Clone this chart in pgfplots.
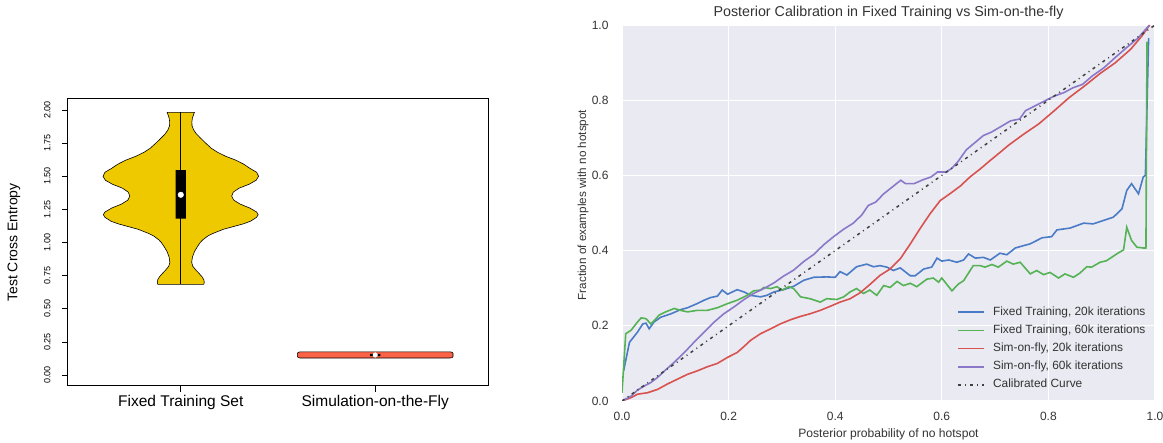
\documentclass[border=0pt]{standalone}
\usepackage{fontspec}
\setmainfont{Liberation Sans}
\usepackage{pgfplots}
\pgfplotsset{compat=1.18}

\definecolor{vyellow}{HTML}{EEC900}
\definecolor{vred}{HTML}{FA6347}
\definecolor{bgcol}{HTML}{EAEAF2}
\definecolor{cblue}{HTML}{4A7BC6}
\definecolor{cgreen}{HTML}{55B255}
\definecolor{cred}{HTML}{D8524F}
\definecolor{cpurple}{HTML}{8A78C8}
\definecolor{txt}{HTML}{333333}

\begin{document}
\begin{tikzpicture}[x=1pt,y=1pt]
\path[use as bounding box] (0,0) rectangle (1163,443);

% left: violin plot
\begin{axis}[
  at={(68pt,57pt)}, anchor=south west, scale only axis,
  width=420pt, height=287pt,
  xmin=0.42, xmax=2.58, ymin=-0.083, ymax=2.083,
  axis line style={line width=1pt},
  tick align=outside, xtick pos=lower, ytick pos=left,
  major tick length=6pt,
  tick style={black, line width=0.6pt},
  xtick={1,2}, xticklabels={Fixed Training Set, Simulation-on-the-Fly},
  ytick={0,0.25,0.5,0.75,1,1.25,1.5,1.75,2},
  yticklabels={0.00,0.25,0.50,0.75,1.00,1.25,1.50,1.75,2.00},
  yticklabel style={rotate=90, anchor=south, yshift=8pt, font=\fontsize{9}{10}\selectfont},
  xticklabel style={font=\fontsize{15.5}{17}\selectfont},
  ylabel={Test Cross Entropy},
  ylabel style={at={(axis description cs:-0.1286,0.5)}, anchor=center, font=\fontsize{14}{16}\selectfont},
]
\addplot[draw=black, line width=0.6pt, fill=vyellow] coordinates {
(1.118,0.684)(1.121,0.70)(1.118,0.72)(1.110,0.74)(1.092,0.77)(1.079,0.79)(1.062,0.82)(1.056,0.85)(1.060,0.89)(1.070,0.93)(1.086,0.97)(1.100,1.00)(1.113,1.02)(1.140,1.05)(1.168,1.07)(1.220,1.10)(1.270,1.12)(1.320,1.14)(1.358,1.16)(1.390,1.19)(1.398,1.21)(1.390,1.23)(1.355,1.26)(1.305,1.29)(1.272,1.32)(1.262,1.35)(1.270,1.38)(1.300,1.41)(1.352,1.44)(1.388,1.47)(1.400,1.50)(1.390,1.53)(1.355,1.56)(1.325,1.59)(1.285,1.62)(1.232,1.65)(1.190,1.68)(1.158,1.71)(1.128,1.75)(1.100,1.79)(1.080,1.82)(1.066,1.85)(1.058,1.88)(1.057,1.91)(1.060,1.94)(1.067,1.97)(1.070,1.982)
(0.930,1.982)(0.933,1.97)(0.940,1.94)(0.943,1.91)(0.942,1.88)(0.934,1.85)(0.920,1.82)(0.900,1.79)(0.872,1.75)(0.842,1.71)(0.810,1.68)(0.768,1.65)(0.715,1.62)(0.675,1.59)(0.645,1.56)(0.610,1.53)(0.600,1.50)(0.612,1.47)(0.648,1.44)(0.700,1.41)(0.730,1.38)(0.738,1.35)(0.728,1.32)(0.695,1.29)(0.645,1.26)(0.610,1.23)(0.602,1.21)(0.610,1.19)(0.642,1.16)(0.680,1.14)(0.730,1.12)(0.780,1.10)(0.832,1.07)(0.860,1.05)(0.887,1.02)(0.900,1.00)(0.914,0.97)(0.930,0.93)(0.940,0.89)(0.944,0.85)(0.938,0.82)(0.921,0.79)(0.908,0.77)(0.890,0.74)(0.882,0.72)(0.879,0.70)(0.882,0.684)(1.118,0.684)
};
\addplot[black, line width=0.8pt] coordinates {(1,0.684)(1,1.982)};
\addplot[draw=none, fill=black] coordinates {(0.974,1.18)(1.026,1.18)(1.026,1.547)(0.974,1.547)(0.974,1.18)};
\addplot[only marks, mark=*, mark size=2.8pt, mark options={fill=white, draw=white}] coordinates {(1,1.36)};

\addplot[draw=black, line width=0.6pt, fill=vred] coordinates {
(2.385,0.128)(2.396,0.132)(2.400,0.140)(2.400,0.163)(2.396,0.171)(2.385,0.175)
(1.615,0.175)(1.604,0.171)(1.600,0.163)(1.600,0.140)(1.604,0.132)(1.615,0.128)(2.385,0.128)
};
\addplot[draw=none, fill=black] coordinates {(1.974,0.143)(2.026,0.143)(2.026,0.159)(1.974,0.159)(1.974,0.143)};
\addplot[only marks, mark=*, mark size=2.3pt, mark options={fill=white, draw=white}] coordinates {(2,0.151)};
\end{axis}

% right: calibration curves
\begin{axis}[
  at={(622pt,42pt)}, anchor=south west, scale only axis,
  width=533pt, height=376pt,
  xmin=0, xmax=1, ymin=0, ymax=1,
  axis background/.style={fill=bgcol},
  axis line style={draw=none},
  major tick length=0pt,
  grid=major, grid style={white, line width=1.3pt},
  xtick={0,0.2,0.4,0.6,0.8,1}, xticklabels={0.0,0.2,0.4,0.6,0.8,1.0},
  ytick={0,0.2,0.4,0.6,0.8,1}, yticklabels={0.0,0.2,0.4,0.6,0.8,1.0},
  ticklabel style={font=\fontsize{12}{14}\selectfont, text=txt},
  xticklabel style={anchor=center, yshift=-15pt},
  yticklabel style={anchor=east, xshift=-10pt},
  title={Posterior Calibration in Fixed Training vs Sim-on-the-fly},
  every axis title/.style={at={(axis description cs:0.5,1)}, anchor=center, yshift=12pt, font=\fontsize{14.3}{16}\selectfont, text=txt},
  xlabel={Posterior probability of no hotspot},
  xlabel style={at={(axis description cs:0.5,0)}, anchor=center, yshift=-33pt, font=\fontsize{12.1}{14}\selectfont, text=txt},
  ylabel={Fraction of examples with no hotspot},
  ylabel style={at={(axis description cs:-0.0732,0.521)}, anchor=center, font=\fontsize{11.7}{14}\selectfont, text=txt},
  legend style={draw=none, fill=none, at={(axis description cs:0.629,0.254)}, anchor=north west,
    inner sep=0pt, row sep=5.2pt, font=\fontsize{11.9}{14}\selectfont, text=txt,
    nodes={inner sep=1pt, text height=8.5pt, text depth=2.5pt}},
  legend cell align=left,
  legend image code/.code={\draw[#1] (0pt,0pt) -- (26pt,0pt); \path (33pt,0pt);},
]
\addplot[cblue, line width=1.6pt] coordinates {
(0.003,0.08)(0.014,0.156)(0.029,0.183)(0.039,0.205)(0.045,0.207)(0.051,0.192)(0.060,0.210)(0.073,0.223)(0.092,0.232)(0.110,0.243)(0.123,0.248)(0.141,0.259)(0.154,0.268)(0.166,0.275)(0.179,0.279)(0.188,0.295)(0.198,0.284)(0.216,0.296)(0.229,0.290)(0.241,0.281)(0.260,0.277)(0.272,0.281)(0.285,0.290)(0.303,0.296)(0.322,0.305)(0.341,0.321)(0.360,0.329)(0.384,0.330)(0.400,0.329)(0.409,0.344)(0.422,0.335)(0.440,0.357)(0.459,0.364)(0.472,0.357)(0.484,0.360)(0.497,0.356)(0.509,0.347)(0.522,0.354)(0.541,0.333)(0.550,0.333)(0.566,0.351)(0.581,0.356)(0.591,0.380)(0.600,0.372)(0.613,0.375)(0.628,0.369)(0.641,0.375)(0.650,0.391)(0.663,0.380)(0.678,0.382)(0.691,0.375)(0.709,0.393)(0.722,0.389)(0.738,0.407)(0.753,0.413)(0.766,0.418)(0.788,0.434)(0.806,0.437)(0.816,0.455)(0.841,0.460)(0.866,0.473)(0.884,0.471)(0.903,0.480)(0.922,0.489)(0.938,0.511)(0.947,0.560)(0.956,0.578)(0.969,0.551)(0.978,0.596)(0.982,0.600)(0.988,0.965)
};
\addlegendentry{Fixed Training, 20k iterations}
\addplot[cgreen, line width=1.6pt] coordinates {
(0,0.022)(0.007,0.179)(0.017,0.188)(0.029,0.210)(0.036,0.221)(0.045,0.219)(0.054,0.205)(0.060,0.213)(0.070,0.229)(0.082,0.237)(0.098,0.246)(0.110,0.241)(0.123,0.237)(0.141,0.241)(0.160,0.241)(0.179,0.248)(0.198,0.259)(0.216,0.268)(0.235,0.281)(0.247,0.293)(0.260,0.295)(0.266,0.302)(0.279,0.299)(0.291,0.304)(0.300,0.295)(0.313,0.304)(0.322,0.299)(0.335,0.277)(0.353,0.272)(0.372,0.263)(0.384,0.272)(0.403,0.270)(0.416,0.277)(0.428,0.290)(0.440,0.299)(0.453,0.286)(0.465,0.295)(0.478,0.281)(0.491,0.307)(0.503,0.302)(0.516,0.318)(0.528,0.307)(0.541,0.313)(0.553,0.304)(0.572,0.324)(0.584,0.327)(0.594,0.316)(0.600,0.327)(0.619,0.293)(0.631,0.311)(0.641,0.320)(0.659,0.360)(0.672,0.360)(0.681,0.356)(0.694,0.363)(0.706,0.356)(0.722,0.372)(0.734,0.364)(0.747,0.369)(0.766,0.338)(0.778,0.347)(0.791,0.336)(0.803,0.342)(0.819,0.327)(0.831,0.338)(0.847,0.329)(0.859,0.340)(0.872,0.357)(0.881,0.356)(0.897,0.369)(0.909,0.373)(0.928,0.391)(0.941,0.402)(0.947,0.462)(0.956,0.427)(0.966,0.409)(0.978,0.407)(0.983,0.407)(0.985,0.955)
};
\addlegendentry{Fixed Training, 60k iterations}
\addplot[cred, line width=1.6pt] coordinates {
(0,0)(0.017,0.009)(0.029,0.018)(0.048,0.022)(0.067,0.031)(0.085,0.045)(0.104,0.058)(0.123,0.071)(0.141,0.080)(0.160,0.091)(0.179,0.100)(0.198,0.116)(0.216,0.129)(0.229,0.145)(0.241,0.161)(0.260,0.179)(0.279,0.192)(0.297,0.205)(0.316,0.216)(0.335,0.225)(0.353,0.232)(0.372,0.241)(0.391,0.252)(0.409,0.263)(0.428,0.272)(0.447,0.288)(0.466,0.311)(0.484,0.334)(0.503,0.351)(0.522,0.378)(0.541,0.418)(0.559,0.458)(0.578,0.498)(0.597,0.533)(0.616,0.552)(0.635,0.572)(0.653,0.596)(0.672,0.617)(0.691,0.640)(0.710,0.662)(0.725,0.680)(0.754,0.710)(0.782,0.737)(0.811,0.772)(0.839,0.807)(0.868,0.838)(0.896,0.870)(0.925,0.899)(0.954,0.935)(0.975,0.970)(0.990,1.0)
};
\addlegendentry{Sim-on-fly, 20k iterations}
\addplot[cpurple, line width=1.6pt] coordinates {
(0,0)(0.017,0.013)(0.029,0.029)(0.042,0.040)(0.054,0.049)(0.067,0.063)(0.079,0.079)(0.098,0.103)(0.117,0.129)(0.135,0.156)(0.154,0.183)(0.173,0.210)(0.191,0.232)(0.210,0.250)(0.229,0.270)(0.247,0.286)(0.266,0.299)(0.285,0.314)(0.303,0.332)(0.322,0.348)(0.341,0.371)(0.360,0.390)(0.378,0.415)(0.397,0.437)(0.416,0.457)(0.434,0.473)(0.450,0.495)(0.462,0.520)(0.476,0.529)(0.491,0.551)(0.507,0.569)(0.523,0.587)(0.532,0.578)(0.548,0.578)(0.564,0.588)(0.580,0.596)(0.592,0.609)(0.608,0.609)(0.618,0.618)(0.630,0.636)(0.646,0.668)(0.662,0.687)(0.678,0.706)(0.693,0.715)(0.711,0.730)(0.729,0.745)(0.746,0.750)(0.757,0.772)(0.775,0.785)(0.793,0.798)(0.811,0.811)(0.829,0.820)(0.846,0.833)(0.864,0.842)(0.882,0.864)(0.904,0.886)(0.925,0.913)(0.946,0.939)(0.968,0.965)(0.989,0.999)
};
\addlegendentry{Sim-on-fly, 60k iterations}
\addplot[black!75, line width=1.5pt, dash pattern=on 3pt off 4pt on 1pt off 4pt] coordinates {(0,0)(1,1)};
\addlegendentry{Calibrated Curve}
\end{axis}
\end{tikzpicture}
\end{document}
